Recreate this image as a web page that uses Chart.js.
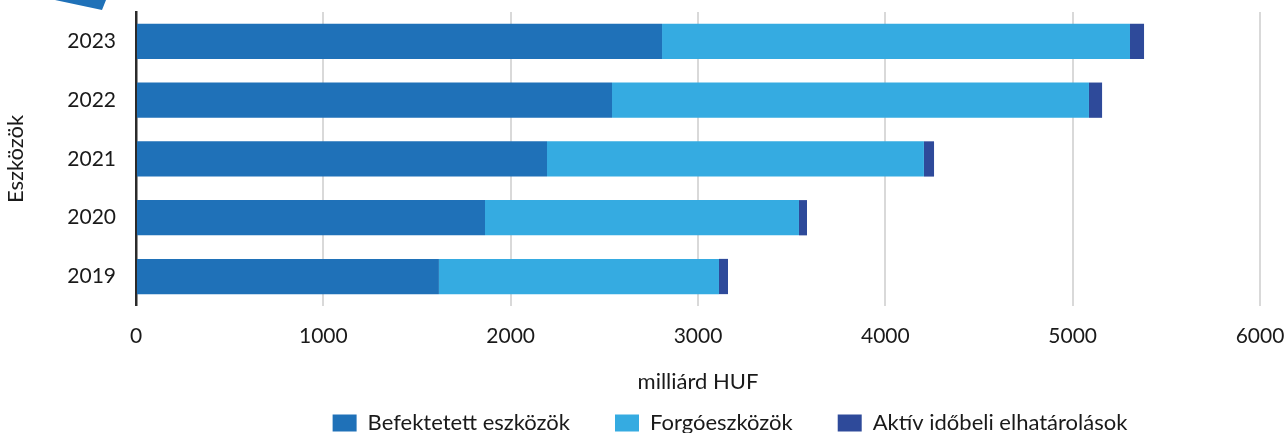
<!DOCTYPE html>
<html><head><meta charset="utf-8">
<script src="https://cdn.jsdelivr.net/npm/chart.js@4/dist/chart.umd.min.js"></script>
<style>
html,body{margin:0;padding:0;background:#fff;overflow:hidden}
#wrap{position:relative;width:1284px;height:433px}
#deco{position:absolute;left:0;top:0;width:120px;height:12px;background:#1f71b8;clip-path:polygon(55px 0,106px 0,102px 10px)}
</style></head>
<body><div id="wrap"><canvas id="c" width="1284" height="433"></canvas><div id="deco"></div></div>
<script>
const categories = ['2023', '2022', '2021', '2020', '2019'];
const befektetett = [2808, 2541, 2194, 1863, 1617];
const forgoeszkozok = [2498, 2546, 2012, 1676, 1495];
const aktiv = [75, 70, 54, 43, 48];
const seriesNames = ['Befektetett eszközök', 'Forgóeszközök', 'Aktív időbeli elhatárolások'];
const xTickValues = [0, 1000, 2000, 3000, 4000, 5000, 6000];

const FONT = 'Lato, "Open Sans", sans-serif';
const TXT = '#1a1a1a';

const legendShift = {
  id: 'legendShift',
  afterLayout(chart) {
    const l = chart.legend;
    if (l) { l.left += 88; l.right += 88; }
  }
};

new Chart(document.getElementById('c'), {
  type: 'bar',
  data: {
    labels: categories,
    datasets: [
      { label: seriesNames[0], data: befektetett, backgroundColor: '#1f71b8' },
      { label: seriesNames[1], data: forgoeszkozok, backgroundColor: '#35abe1' },
      { label: seriesNames[2], data: aktiv, backgroundColor: '#2e4a9a' }
    ]
  },
  plugins: [legendShift],
  options: {
    indexAxis: 'y',
    responsive: false,
    animation: false,
    devicePixelRatio: 1,
    datasets: { bar: { barPercentage: 0.6, categoryPercentage: 1.0, borderWidth: 0 } },
    layout: { padding: { top: 12, left: 0, right: 0, bottom: -11 } },
    plugins: {
      tooltip: { enabled: false },
      legend: {
        position: 'bottom',
        labels: { boxWidth: 24, boxHeight: 17, padding: 45, color: TXT, font: { family: FONT, size: 22 } }
      }
    },
    scales: {
      y: {
        stacked: true,
        grid: { display: false, drawTicks: false },
        border: { display: true, color: '#2b2b2b', width: 2.5 },
        ticks: { color: TXT, padding: 20, font: { family: FONT, size: 21 } },
        title: { display: true, text: 'Eszközök', color: TXT, font: { family: FONT, size: 22 }, padding: { top: 3, bottom: 0 } },
        afterFit: (s) => { s.width = 136; s.paddingTop = 0; s.paddingBottom = 0; }
      },
      x: {
        stacked: true,
        min: 0, max: 6000,
        afterBuildTicks: (s) => { s.ticks = xTickValues.map(v => ({ value: v })); },
        grid: { color: '#d9d9d9', lineWidth: 2, drawTicks: false },
        border: { display: false },
        ticks: { color: TXT, padding: 18, font: { family: FONT, size: 21 }, callback: (v) => String(v) },
        title: { display: true, text: 'milliárd HUF', color: TXT, font: { family: FONT, size: 22 }, padding: { top: 1.5, bottom: -28 } },
        afterFit: (s) => { s.paddingLeft = 0; s.paddingRight = 24; }
      }
    }
  }
});
</script>
</body></html>
